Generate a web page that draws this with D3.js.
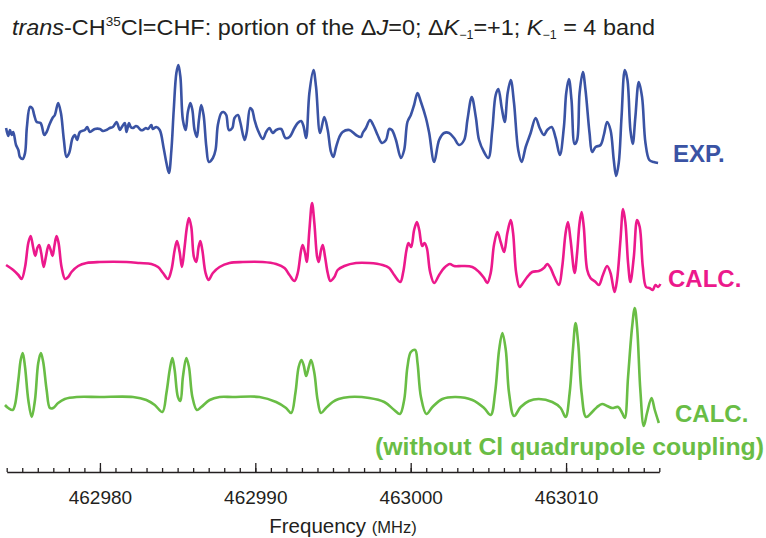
<!DOCTYPE html>
<html>
<head>
<meta charset="utf-8">
<script src="https://cdn.jsdelivr.net/npm/d3@7"></script>
<style>
  body { margin: 0; background: #fff; }
  svg { display: block; font-family: "Liberation Sans", Arial, sans-serif; }
</style>
</head>
<body>
<svg id="chart" width="766" height="538"></svg>
<script>
// frequencies are given as MHz above F0, intensities in arbitrary units
const F0 = 462974;

// experimental spectrum
const expFreq = [-0.04,0.10,0.21,0.32,0.42,0.60,0.75,0.85,1.03,1.18,1.30,1.50,1.64,1.77,1.93,2.18,2.42,2.57,2.74,2.95,
  3.10,3.31,3.49,3.68,3.85,4.02,4.24,4.39,4.53,4.71,5.03,5.18,5.35,5.67,6.00,6.19,6.42,6.63,6.83,7.07,
  7.18,7.28,7.41,7.60,7.71,7.87,7.98,8.13,8.31,8.45,8.63,8.77,8.95,9.09,9.31,9.40,9.63,9.85,10.10,10.28,
  10.44,10.60,10.75,10.92,11.05,11.18,11.34,11.52,11.66,11.82,11.95,12.09,12.24,12.37,12.52,12.67,12.85,13.01,13.27,13.44,
  13.59,13.81,13.96,14.13,14.30,14.52,14.66,14.88,15.03,15.31,15.45,15.67,15.80,15.95,16.16,16.48,16.70,16.91,17.12,17.34,
  17.66,17.94,18.20,18.52,18.73,18.95,19.10,19.27,19.48,19.74,19.91,20.17,20.44,20.66,20.87,21.02,21.20,21.41,21.62,22.05,
  22.48,22.80,22.91,23.12,23.38,23.59,23.87,24.15,24.41,24.62,24.79,25.05,25.37,25.58,25.79,26.01,26.22,26.44,26.66,26.98,
  27.19,27.51,27.83,28.15,28.47,28.79,29.12,29.44,29.65,29.93,30.19,30.40,30.72,31.00,31.25,31.47,31.64,31.86,32.05,32.24,
  32.44,32.65,32.92,33.14,33.40,33.72,34.04,34.30,34.57,34.79,35.07,35.33,35.60,35.86,36.01,36.18,36.35,36.55,36.71,36.87,
  37.08,37.25,37.51,37.68,37.90,38.22,38.43,38.64,38.86,39.07,39.22,39.39,39.57,39.78,39.95,40.14,40.29,40.46,40.68,40.89,
  41.11,41.36,41.64,41.92];
const expInt = [2,-6,0,-5,-2,-15,-20,-27,-29,-23,3,23,22,15,8,7,-5,-2,5,12,
  15,27,17,-10,-27,-23,-8,-5,-10,-2,0,3,-2,1,1,-1,0,2,3,8,
  4,0,3,7,-2,7,3,2,4,3,0,0,2,1,5,1,3,0,-18,-33,
  -43,-20,20,57,65,53,10,0,18,27,20,0,-7,10,25,15,-17,-32,-28,-20,
  5,17,18,15,0,2,12,15,8,-10,-2,22,20,10,0,-9,-2,2,-3,0,
  1,-8,-7,2,7,9,4,-8,37,60,43,-3,13,0,-22,-27,-17,-7,-2,0,
  -5,-7,-3,2,10,5,-5,-13,-10,1,0,-10,-28,-20,8,15,25,37,28,12,
  -3,-32,-10,-3,-3,-8,-15,-10,10,33,13,-10,-22,-28,0,35,41,22,8,37,
  50,27,-20,-32,-17,-3,12,2,-5,0,3,-8,-25,3,37,51,30,-14,-10,37,
  58,40,-3,-22,-17,-15,-5,8,0,-30,-46,-33,13,60,50,0,-14,13,48,33,
  -13,-30,-32,-33];

// calculated spectrum
const calcFreq = [-0.04,0.42,0.75,0.96,1.18,1.39,1.54,1.71,1.84,1.97,2.09,2.22,2.38,2.52,2.70,2.83,2.95,3.08,3.21,3.34,
  3.53,3.76,3.96,4.17,4.60,5.14,5.99,7.71,8.56,9.31,9.74,10.06,10.38,10.60,10.81,10.96,11.13,11.28,11.45,11.60,
  11.73,11.88,12.05,12.20,12.35,12.46,12.59,12.80,12.99,13.27,13.70,14.34,15.20,16.48,17.34,17.88,18.20,18.52,18.73,18.95,
  19.05,19.20,19.31,19.48,19.65,19.80,19.98,20.08,20.23,20.34,20.49,20.66,20.83,21.09,21.30,21.73,22.48,23.34,24.19,24.62,
  24.94,25.33,25.52,25.73,25.86,26.03,26.22,26.40,26.55,26.74,26.89,27.04,27.25,27.51,27.83,28.15,28.52,28.79,29.33,29.97,
  30.40,30.72,30.93,31.15,31.36,31.58,31.79,32.01,32.22,32.44,32.59,32.79,33.01,33.23,33.50,33.82,34.25,34.57,34.79,35.00,
  35.22,35.54,35.75,35.97,36.12,36.29,36.55,36.71,36.87,37.00,37.14,37.36,37.57,37.90,38.11,38.37,38.64,38.86,39.12,39.28,
  39.50,39.67,39.82,39.99,40.14,40.36,40.57,40.74,40.94,41.15,41.37,41.58,41.75,41.92,42.07];
const calcInt = [-2,-7,-12,-16,-4,20,27,15,7,15,18,10,-4,6,18,13,7,18,27,20,
  -4,-16,-14,-9,-3,0,1,1,0,-1,-4,-10,-16,-7,13,22,11,-4,16,36,
  45,36,6,1,16,22,13,-10,-17,-10,-4,0,1,1,-1,-5,-12,-18,-10,13,
  18,10,1,33,60,40,6,1,13,18,6,-10,-18,-14,-7,-3,0,0,-2,-5,
  -12,-19,-9,13,20,16,33,41,33,17,20,15,-9,-20,-12,-5,-1,-3,-3,-4,
  -9,-15,-20,-10,18,31,21,11,30,43,30,-10,-24,-20,-14,-9,-8,-5,-1,-5,
  -13,-22,-4,30,41,23,-10,10,40,51,36,-7,-15,-19,-22,-12,-3,-10,-29,-17,
  23,54,40,0,-19,6,43,36,-4,-24,-25,-27,-22,-24,-21];

// calculated without Cl quadrupole coupling
const nqFreq = [-0.11,0.10,0.39,0.53,0.75,0.90,1.03,1.18,1.39,1.61,1.82,2.03,2.20,2.35,2.57,2.78,2.99,3.31,3.74,4.50,
  5.99,8.13,8.99,9.53,10.02,10.28,10.49,10.66,10.81,11.02,11.18,11.34,11.56,11.73,11.95,12.24,12.52,13.06,13.70,14.55,
  16.27,17.34,17.98,18.31,18.58,18.79,18.97,19.11,19.27,19.44,19.59,19.80,20.01,20.23,20.55,20.98,21.36,22.05,23.33,24.30,
  24.94,25.31,25.58,25.79,26.01,26.29,26.44,26.66,27.01,27.40,28.04,28.90,29.97,30.72,31.15,31.43,31.69,31.90,32.12,32.33,
  32.65,33.08,33.61,34.25,35.11,35.65,35.97,36.23,36.44,36.61,36.78,37.00,37.29,37.68,38.00,38.32,38.64,38.96,39.35,39.61,
  39.78,39.99,40.25,40.42,40.57,40.78,41.00,41.21,41.50,41.71,41.97];
const nqInt = [-8,-11,-13,-8,17,37,44,30,-3,-20,-3,34,44,35,7,-11,-11,-6,-2,0,
  0,0,-3,-8,-15,4,27,39,27,0,-4,20,39,30,0,-13,-10,-3,0,0,
  0,-5,-11,-16,4,30,37,32,21,30,37,24,-3,-16,-11,-5,-2,0,-1,-5,
  -13,-17,-3,30,45,47,34,0,-17,-10,-2,0,-3,-11,-18,4,47,64,47,4,
  -19,-10,-4,-2,-5,-11,-20,4,47,74,54,4,-20,-15,-10,-7,-9,-11,-10,-16,
  -21,20,70,89,70,7,-29,-16,-1,-13,-26];

const majorTicks = [462980, 462990, 463000, 463010];

const svg = d3.select("#chart");

const x = d3.scaleLinear()
  .domain([462974, 463016])
  .range([6.7, 659.3]);

// one vertical band per trace, same intensity scale
const traces = [
  { freq: expFreq, amp: expInt, base: 130, color: "#3a53a4" },
  { freq: calcFreq, amp: calcInt, base: 263, color: "#ec198c" },
  { freq: nqFreq, amp: nqInt, base: 397, color: "#69bd45" }
];

traces.forEach(t => {
  const y = d3.scaleLinear().domain([0, 100]).range([t.base, t.base - 100]);
  const pts = t.freq.map((f, i) => [F0 + f, t.amp[i]]);
  const line = d3.line()
    .x(d => x(d[0]))
    .y(d => y(d[1]))
    .curve(d3.curveCatmullRom.alpha(0.5));
  svg.append("path")
    .datum(pts)
    .attr("d", line)
    .attr("fill", "none")
    .attr("stroke", t.color)
    .attr("stroke-width", 2.6)
    .attr("stroke-linejoin", "round");
});

// axis
const axisY = 472;
svg.append("g")
  .attr("transform", `translate(0,${axisY})`)
  .call(d3.axisBottom(x).tickValues(d3.range(462974, 463017, 1)).tickSizeInner(-4).tickSizeOuter(0).tickFormat(""))
  .call(g => g.selectAll("line").attr("stroke", "#231f20").attr("stroke-width", 1.3))
  .call(g => g.select(".domain").attr("stroke", "#231f20").attr("stroke-width", 1.6));

svg.append("g")
  .attr("transform", `translate(0,${axisY})`)
  .call(d3.axisBottom(x).tickValues(majorTicks).tickSizeInner(-9).tickSizeOuter(0).tickPadding(19).tickFormat(d3.format("d")))
  .call(g => g.select(".domain").remove())
  .call(g => g.selectAll("line").attr("stroke", "#231f20").attr("stroke-width", 1.3))
  .call(g => g.selectAll("text")
    .attr("font-family", "'Liberation Sans', Arial, sans-serif")
    .attr("font-size", 19)
    .attr("fill", "#231f20"));

// axis title
const xt = svg.append("text")
  .attr("x", 343).attr("y", 533)
  .attr("text-anchor", "middle")
  .attr("fill", "#231f20")
  .attr("font-size", 20.5);
xt.append("tspan").text("Frequency ");
xt.append("tspan").attr("font-size", 16.5).text("(MHz)");

// title
const title = svg.append("text")
  .attr("x", 12).attr("y", 35)
  .attr("fill", "#231f20")
  .attr("font-size", 22.5)
  .attr("textLength", 643)
  .attr("lengthAdjust", "spacingAndGlyphs");
title.append("tspan").attr("font-style", "italic").text("trans");
title.append("tspan").text("-CH");
title.append("tspan").attr("font-size", 13).attr("dy", -9).text("35");
title.append("tspan").attr("dy", 9).text("Cl=CHF: portion of the \u0394");
title.append("tspan").attr("font-style", "italic").text("J");
title.append("tspan").text("=0; \u0394");
title.append("tspan").attr("font-style", "italic").text("K");
title.append("tspan").attr("font-size", 12).attr("dy", 4).text("\u22121");
title.append("tspan").attr("dy", -4).text("=+1; ");
title.append("tspan").attr("font-style", "italic").text("K");
title.append("tspan").attr("font-size", 12).attr("dy", 4).text("\u22121");
title.append("tspan").attr("dy", -4).text(" = 4 band");

// trace labels
const labels = [
  { text: "EXP.", x: 673, y: 162, color: "#3a53a4" },
  { text: "CALC.", x: 668, y: 287, color: "#ec198c" },
  { text: "CALC.", x: 675, y: 422, color: "#69bd45" },
  { text: "(without Cl quadrupole coupling)", x: 375, y: 455, color: "#69bd45", len: 389 }
];
svg.selectAll("text.lbl")
  .data(labels)
  .enter()
  .append("text")
    .attr("class", "lbl")
    .attr("x", d => d.x)
    .attr("y", d => d.y)
    .attr("fill", d => d.color)
    .attr("font-weight", "bold")
    .attr("font-size", 24)
    .attr("textLength", d => d.len || null)
    .attr("lengthAdjust", "spacingAndGlyphs")
    .text(d => d.text);
</script>
</body>
</html>
